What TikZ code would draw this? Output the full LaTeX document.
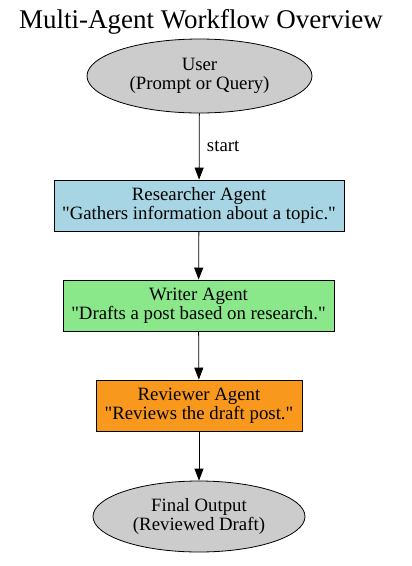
\documentclass[tikz,border=0pt]{standalone}
\usepackage{fontspec}
\newfontfamily\gvfont{Liberation Serif}
\usetikzlibrary{arrows.meta,shapes.geometric}
\definecolor{ugray}{HTML}{CCCCCC}
\definecolor{rblue}{HTML}{A8D5E3}
\definecolor{wgreen}{HTML}{8AE88A}
\definecolor{rorange}{HTML}{F8991D}
\tikzset{
  base/.style={draw=black, line width=0.8pt, inner sep=0pt, align=center, font=\gvfont\fontsize{18.8}{19}\selectfont},
  endnode/.style={base, ellipse, fill=ugray},
  agent/.style={base, rectangle, minimum height=51pt},
  flow/.style={draw=black, line width=0.8pt, -{Triangle[length=12pt,width=9pt]}},
}
\begin{document}
\begin{tikzpicture}[x=1pt,y=-1pt]
\useasboundingbox (0,0) rectangle (412,566);
\node[font=\gvfont\fontsize{27}{30}\selectfont, anchor=base] (title) at (201,28.5) {Multi-Agent Workflow Overview};
\node[endnode, minimum width=225pt, minimum height=74pt] (user) at (199.5,76) {User\\(Prompt or Query)};
\node[agent, fill=rblue, minimum width=290pt] (res) at (199,205.5) {Researcher Agent\\"Gathers information about a topic."};
\node[agent, fill=wgreen, minimum width=271pt] (wri) at (198.5,305.5) {Writer Agent\\"Drafts a post based on research."};
\node[agent, fill=rorange, minimum width=206pt] (rev) at (199,405.5) {Reviewer Agent\\"Reviews the draft post."};
\node[endnode, minimum width=212pt, minimum height=71pt] (fin) at (199,516.5) {Final Output\\(Reviewed Draft)};
\draw[flow] (user) -- node[right, xshift=4pt, font=\gvfont\fontsize{18.8}{19}\selectfont] {start} (res);
\draw[flow] (res) -- (wri);
\draw[flow] (wri) -- (rev);
\draw[flow] (rev) -- (fin);
\end{tikzpicture}
\end{document}
